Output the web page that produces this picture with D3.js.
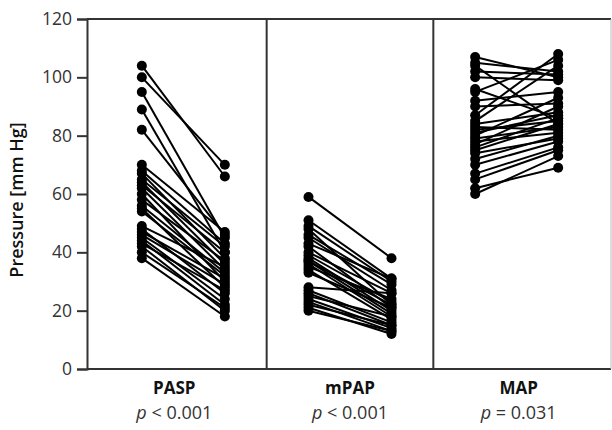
<!DOCTYPE html>
<html><head><meta charset="utf-8">
<script src="https://cdn.jsdelivr.net/npm/d3@7"></script>
<style>body{margin:0;background:#fff}svg{display:block}</style>
</head><body>
<script>
const categories = ["PASP", "mPAP", "MAP"];
const pLabels = [["p", " < 0.001"], ["p", " < 0.001"], ["p", " = 0.031"]];
const yTicks = [0, 20, 40, 60, 80, 100, 120];

const paspBefore = [104, 100, 95, 89, 82, 70, 68, 67, 65, 64, 63, 62, 60, 58, 56, 55, 54, 49, 48, 47, 46, 45, 44, 43, 42, 40, 38];
const paspAfter  = [66, 70, 45, 40, 46, 47, 43, 38, 42, 36, 40, 34, 30, 37, 33, 28, 32, 35, 26, 31, 29, 24, 22, 27, 20, 21, 18];

const mpapBefore = [59, 51, 49, 48, 46, 45, 43, 42, 40, 39, 38, 37, 37, 36, 35, 34, 33, 28, 27, 26, 25, 24, 23, 22, 21, 20];
const mpapAfter  = [38, 31, 30, 22, 29, 27, 31, 21, 26, 23, 20, 22, 19, 18, 24, 17, 21, 26, 16, 15, 18, 14, 13, 15, 12, 13];

const mapBefore = [107, 105, 104, 102, 100, 96, 95, 92, 90, 87, 85, 84, 83, 82, 81, 80, 79, 78, 77, 76, 75, 74, 72, 70, 67, 65, 62, 60];
const mapAfter  = [100, 102, 84, 101, 99, 86, 106, 95, 91, 108, 104, 88, 82, 85, 87, 93, 83, 81, 90, 86, 84, 79, 80, 78, 76, 75, 69, 73];

const groups = [
  {name: "PASP", before: paspBefore, after: paspAfter},
  {name: "mPAP", before: mpapBefore, after: mpapAfter},
  {name: "MAP", before: mapBefore, after: mapAfter}
];

const W = 612, H = 430;
const svg = d3.select("body").append("svg").attr("width", W).attr("height", H);
const font = "'Open Sans', sans-serif";

const y = d3.scaleLinear().domain([0, 120]).range([369, 19]);
const x = d3.scaleBand().domain(categories).range([100, 600]);
const off = 41.5;
const left = 87, right = 611;

// frame
const frame = svg.append("g").attr("stroke", "#333").attr("fill", "none");
frame.append("line").attr("x1", left).attr("x2", right).attr("y1", y(0)).attr("y2", y(0)).attr("stroke-width", 2);
frame.append("line").attr("x1", left).attr("x2", right).attr("y1", y(120)).attr("y2", y(120)).attr("stroke-width", 2);
frame.append("line").attr("x1", right).attr("x2", right).attr("y1", y(120)).attr("y2", y(0)).attr("stroke-width", 1).attr("stroke", "#bbb");
categories.slice(1).forEach(c => {
  frame.append("line").attr("x1", x(c)).attr("x2", x(c)).attr("y1", y(120)).attr("y2", y(0)).attr("stroke-width", 2);
});

// y axis
const yAxis = svg.append("g").attr("transform", `translate(${left},0)`)
  .call(d3.axisLeft(y).tickValues(yTicks).tickSize(10).tickPadding(5));
yAxis.select(".domain").attr("stroke", "#333").attr("stroke-width", 2);
yAxis.selectAll(".tick line").attr("stroke", "#333").attr("stroke-width", 2);
yAxis.selectAll(".tick text").attr("font-family", font).attr("font-size", 17.5).attr("font-weight", 400).attr("fill", "#333");

svg.append("text")
  .attr("transform", `translate(23,${(y(0)+y(120))/2 + 6}) rotate(-90)`)
  .attr("text-anchor", "middle").attr("font-family", font).attr("font-weight", 600)
  .attr("font-size", 18).attr("fill", "#111").text("Pressure [mm Hg]");

// data
groups.forEach(g => {
  const cx = x(g.name) + x.bandwidth() / 2;
  const x0 = cx - off, x1 = cx + off;
  const gg = svg.append("g");
  g.before.forEach((b, i) => {
    gg.append("line").attr("x1", x0).attr("x2", x1).attr("y1", y(b)).attr("y2", y(g.after[i]))
      .attr("stroke", "#000").attr("stroke-width", 2);
  });
  g.before.forEach(b => gg.append("circle").attr("cx", x0).attr("cy", y(b)).attr("r", 5).attr("fill", "#000"));
  g.after.forEach(a => gg.append("circle").attr("cx", x1).attr("cy", y(a)).attr("r", 5).attr("fill", "#000"));
});

// category labels
const labelDx = [-9, 0, 2];
categories.forEach((c, i) => {
  const cx = x(c) + x.bandwidth() / 2 + labelDx[i];
  svg.append("text").attr("x", cx).attr("y", 394).attr("text-anchor", "middle")
    .attr("font-family", font).attr("font-weight", 700).attr("font-size", 17).attr("fill", "#111").text(c);
  const t = svg.append("text").attr("x", cx).attr("y", 419).attr("text-anchor", "middle")
    .attr("font-family", font).attr("font-weight", 400).attr("font-size", 18).attr("fill", "#333");
  t.append("tspan").attr("font-style", "italic").text(pLabels[i][0]);
  t.append("tspan").text(pLabels[i][1]);
});
</script>
</body></html>
